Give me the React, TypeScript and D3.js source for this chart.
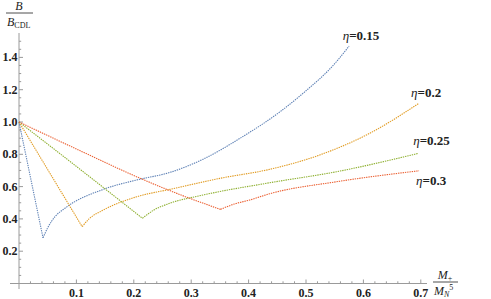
import React from "react";
import * as d3 from "d3";

const etaLabels = ["η=0.15", "η=0.2", "η=0.25", "η=0.3"];
const colors = ["#5E81B5", "#E19C24", "#8FB032", "#EB6235"];

// descending branches (x, y)
const descX = [
  [0, 0.0418],
  [0, 0.11],
  [0, 0.109, 0.215],
  [0, 0.109, 0.214, 0.28, 0.351],
];
const descY = [
  [1, 0.283],
  [1, 0.352],
  [1, 0.7, 0.404],
  [1, 0.818, 0.647, 0.551, 0.459],
];
// rising branches (x, y)
const ascX = [
  [0.0418, 0.05, 0.063, 0.08, 0.147, 0.205, 0.263, 0.321, 0.385, 0.455, 0.495, 0.553, 0.575],
  [0.11, 0.122, 0.147, 0.205, 0.263, 0.35, 0.437, 0.524, 0.611, 0.697],
  [0.215, 0.235, 0.263, 0.321, 0.437, 0.553, 0.696],
  [0.351, 0.375, 0.402, 0.437, 0.553, 0.697],
];
const ascY = [
  [0.283, 0.345, 0.415, 0.466, 0.583, 0.641, 0.688, 0.77, 0.899, 1.064, 1.178, 1.373, 1.47],
  [0.352, 0.4, 0.455, 0.537, 0.583, 0.651, 0.707, 0.796, 0.93, 1.116],
  [0.404, 0.455, 0.497, 0.548, 0.624, 0.692, 0.806],
  [0.459, 0.492, 0.517, 0.556, 0.63, 0.698],
];

const xTicks = [0.1, 0.2, 0.3, 0.4, 0.5, 0.6, 0.7];
const yTicks = [0.2, 0.4, 0.6, 0.8, 1.0, 1.2, 1.4];

export default function App() {
  const W = 491, H = 299;
  const x = d3.scaleLinear().domain([0, 0.7]).range([19, 420.8]);
  const y = d3.scaleLinear().domain([0, 1]).range([283.5, 122]);
  const line = d3
    .line<[number, number]>()
    .x((d) => x(d[0]))
    .y((d) => y(d[1]))
    .curve(d3.curveMonotoneX);

  const xMinor = d3.range(0.02, 0.711, 0.02).filter((v) => Math.abs(v * 10 - Math.round(v * 10)) > 1e-6);
  const yMinor = d3.range(0.05, 1.55, 0.05).filter((v) => Math.abs(v * 5 - Math.round(v * 5)) > 1e-6);

  const axisColor = "#9a9a9a";
  const serif = "Liberation Serif, DejaVu Serif, serif";

  const labelOffsets: [number, number][] = [
    [12, -6],
    [7, -6],
    [13, -8],
    [12, 14],
  ];

  return (
    <svg
      width={W}
      height={H}
      style={{ position: "absolute", left: 0, top: 0, display: "block", background: "#fff" }}
      fontFamily={serif}
    >
      {/* axes */}
      <line x1={10} x2={427} y1={y(0)} y2={y(0)} stroke={axisColor} strokeWidth={1} />
      <line x1={x(0)} x2={x(0)} y1={33} y2={289} stroke={axisColor} strokeWidth={1} />
      {xTicks.map((t) => (
        <g key={"xt" + t}>
          <line x1={x(t)} x2={x(t)} y1={y(0)} y2={y(0) - 4} stroke={axisColor} />
          <text x={x(t)} y={297} textAnchor="middle" fontSize={12} fontWeight="bold" fill="#222">
            {t.toFixed(1)}
          </text>
        </g>
      ))}
      {xMinor.map((t) => (
        <line key={"xm" + t} x1={x(t)} x2={x(t)} y1={y(0)} y2={y(0) - 2.2} stroke={axisColor} />
      ))}
      {yTicks.map((t) => (
        <g key={"yt" + t}>
          <line x1={x(0)} x2={x(0) + 4} y1={y(t)} y2={y(t)} stroke={axisColor} />
          <text x={17.5} y={y(t) + 4} textAnchor="end" fontSize={12} fontWeight="bold" fill="#222">
            {t.toFixed(1)}
          </text>
        </g>
      ))}
      {yMinor.map((t) => (
        <line key={"ym" + t} x1={x(0)} x2={x(0) + 2.2} y1={y(t)} y2={y(t)} stroke={axisColor} />
      ))}

      {/* y-axis label */}
      <g fill="#222">
        <text x={19} y={10} textAnchor="middle" fontSize={12} fontStyle="italic">B</text>
        <line x1={6} x2={33} y1={13} y2={13} stroke="#222" strokeWidth={0.8} />
        <text x={7} y={26} fontSize={12}>
          <tspan fontStyle="italic">B</tspan>
          <tspan fontSize={8} dy={2}>CDL</tspan>
        </text>
      </g>

      {/* x-axis label */}
      <g fill="#222">
        <text x={445} y={279} textAnchor="middle" fontSize={12} fontStyle="italic">
          M<tspan fontSize={8} fontStyle="normal" dy={2}>+</tspan>
        </text>
        <line x1={433} x2={458} y1={282} y2={282} stroke="#222" strokeWidth={0.8} />
        <text x={434} y={295} fontSize={12}>
          <tspan fontStyle="italic">M</tspan>
          <tspan fontSize={8} fontStyle="italic" dy={2}>N</tspan>
          <tspan fontSize={8} dy={-7}>5</tspan>
        </text>
      </g>

      {/* curves */}
      {colors.map((c, i) => {
        const d1 = descX[i].map((v, j) => [v, descY[i][j]] as [number, number]);
        const d2 = ascX[i].map((v, j) => [v, ascY[i][j]] as [number, number]);
        return (
          <g key={"s" + i} fill="none" stroke={c} strokeWidth={1.1} strokeDasharray="1.4,0.9">
            <path d={line(d1) || ""} />
            <path d={line(d2) || ""} />
          </g>
        );
      })}

      {/* series labels */}
      {etaLabels.map((lab, i) => {
        const n = ascX[i].length - 1;
        const px = x(ascX[i][n]) + labelOffsets[i][0];
        const py = y(ascY[i][n]) + labelOffsets[i][1];
        const parts = lab.split("=");
        return (
          <text key={"l" + i} x={px} y={py} textAnchor="middle" fontSize={13} fill="#222">
            <tspan fontStyle="italic">{parts[0]}</tspan>
            <tspan fontWeight="bold">={parts[1]}</tspan>
          </text>
        );
      })}
    </svg>
  );
}
